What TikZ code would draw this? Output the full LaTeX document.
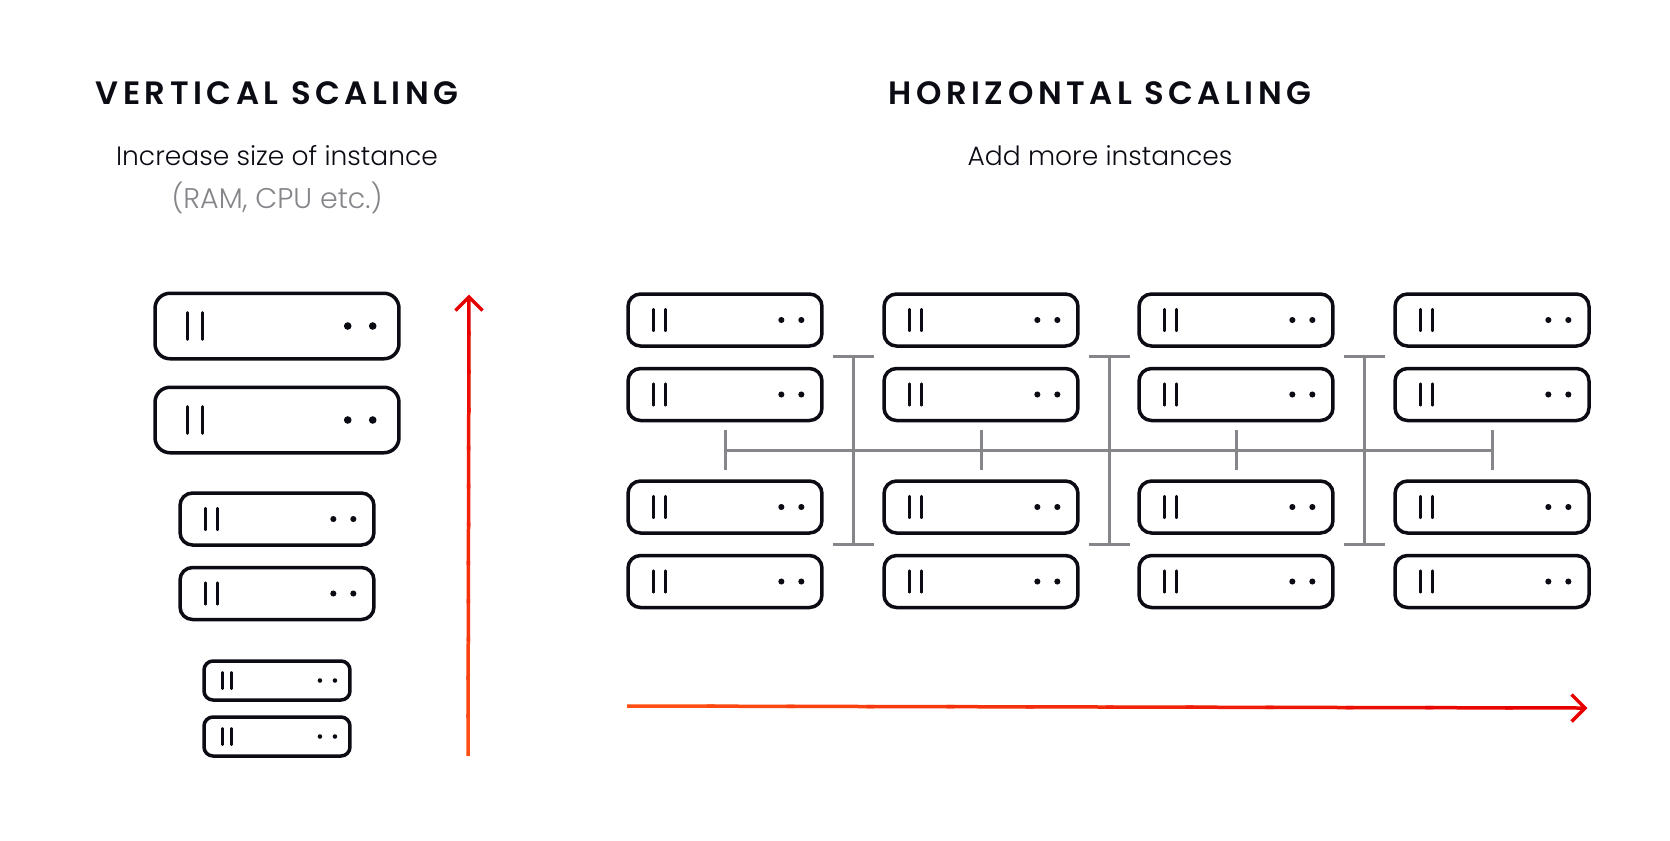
\documentclass[tikz,border=0pt]{standalone}
\usepackage{fontspec}
\setmainfont{Poppins}[UprightFont=* Light,BoldFont=* Medium]
\newfontfamily\titlefont[LetterSpace=14,UprightFont=* SemiBold]{Poppins}
\usepackage{tikz}
\usetikzlibrary{arrows.meta,positioning,calc}
\definecolor{inkblack}{HTML}{0B0B14}
\definecolor{linkgray}{HTML}{85858A}
\definecolor{scalered}{HTML}{E60000}
\definecolor{scaleorange}{HTML}{FF4F14}

% inner marks of one server box, #2 is the size factor
\newcommand{\serverbits}[2]{
    \draw[barmark] ($(#1.west)+(34*#2,-13.5*#2)$) -- ($(#1.west)+(34*#2,13.5*#2)$);
    \draw[barmark] ($(#1.west)+(49*#2,-13.5*#2)$) -- ($(#1.west)+(49*#2,13.5*#2)$);
    \fill[inkblack] ($(#1.east)+(-53*#2,0)$) circle[radius=3.8*#2];
    \fill[inkblack] ($(#1.east)+(-28*#2,0)$) circle[radius=3.8*#2];
}

\begin{document}
\begin{tikzpicture}[
    x=0.02cm, y=-0.02cm,
    serverbox/.style={draw=inkblack, line width=0.07cm, fill=white},
    serverl/.style={serverbox, minimum width=4.88cm, minimum height=1.31cm, rounded corners=0.3cm},
    serverm/.style={serverbox, minimum width=3.88cm, minimum height=1.04cm, rounded corners=0.25cm},
    servers/.style={serverbox, minimum width=2.92cm, minimum height=0.78cm, rounded corners=0.18cm},
    barmark/.style={draw=inkblack, line width=0.055cm, line cap=round},
    busline/.style={draw=linkgray, line width=0.06cm},
    scaleline/.style={line width=0.07cm},
    heading/.style={font=\titlefont\fontsize{18.4}{20}\selectfont, text=inkblack},
    subtext/.style={font=\fontsize{15.1}{20}\selectfont, text=inkblack},
    notetext/.style={font=\fontsize{16.2}{20}\selectfont, text=linkgray}
]
    \fill[white] (0,0) rectangle (1670,840);

    \node[heading] (vtitle) at (277,93) {VERTICAL SCALING};
    \node[subtext] (vsub) at (277,156) {Increase size of instance};
    \node[notetext] (vnote) at (277,198) {(RAM, CPU etc.)};
    \node[heading] (htitle) at (1100,93) {HORIZONTAL SCALING};
    \node[subtext] (hsub) at (1100,156) {Add more instances};

    % left stack
    \node[serverl] (v1) at (277,326) {};
    \node[serverl] (v2) at (277,420) {};
    \node[serverm] (v3) at (277,519) {};
    \node[serverm] (v4) at (277,593.5) {};
    \node[servers] (v5) at (277,680.5) {};
    \node[servers] (v6) at (277,736.5) {};
    \foreach \n/\s in {v1/1,v2/1,v3/0.8,v4/0.8,v5/0.6,v6/0.6}
        \serverbits{\n}{\s};

    % bus lines behind the grid
    \foreach \c/\x in {1/725,2/981,3/1236,4/1492} {
        \coordinate (tick\c a) at (\x,430);
        \coordinate (tick\c b) at (\x,470);
        \coordinate (tick\c) at (\x,450);
        \draw[busline] (tick\c a) -- (tick\c b);
    }
    \draw[busline] (tick1) -- (tick4);
    \foreach \c/\x in {1/853,2/1109,3/1364} {
        \coordinate (bar\c a) at (\x,356);
        \coordinate (bar\c b) at (\x,544);
        \draw[busline] (bar\c a) -- (bar\c b);
        \draw[busline] ($(bar\c a)+(-20.5,0)$) -- ($(bar\c a)+(20.5,0)$);
        \draw[busline] ($(bar\c b)+(-20.5,0)$) -- ($(bar\c b)+(20.5,0)$);
    }

    % server grid
    \foreach \c/\x in {1/725,2/981,3/1236,4/1492}
        \foreach \r/\y in {1/320,2/394.5,3/507,4/581.5} {
            \node[serverm] (h\c\r) at (\x,\y) {};
            \serverbits{h\c\r}{0.8};
        }

    % scale arrows, banded from orange to red
    \coordinate (vstart) at (468,756);
    \coordinate (vend) at (469,297);
    \coordinate (hstart) at (627,706);
    \coordinate (hend) at (1585,708);
    \foreach \i in {0,...,11} {
        \pgfmathsetmacro{\mixval}{100-\i*100/11}
        \pgfmathsetmacro{\nexti}{min((\i+1.1)/12,1)}
        \draw[scaleline, draw=scaleorange!\mixval!scalered] ($(vstart)!\i/12!(vend)$) -- ($(vstart)!\nexti!(vend)$);
        \draw[scaleline, draw=scaleorange!\mixval!scalered] ($(hstart)!\i/12!(hend)$) -- ($(hstart)!\nexti!(hend)$);
    }
    \draw[scaleline, draw=scalered] ($(vend)+(-13.5,13.5)$) -- (vend) -- ($(vend)+(13.5,13.5)$);
    \draw[scaleline, draw=scalered] ($(hend)+(-13.5,-13.5)$) -- (hend) -- ($(hend)+(-13.5,13.5)$);
\end{tikzpicture}
\end{document}
